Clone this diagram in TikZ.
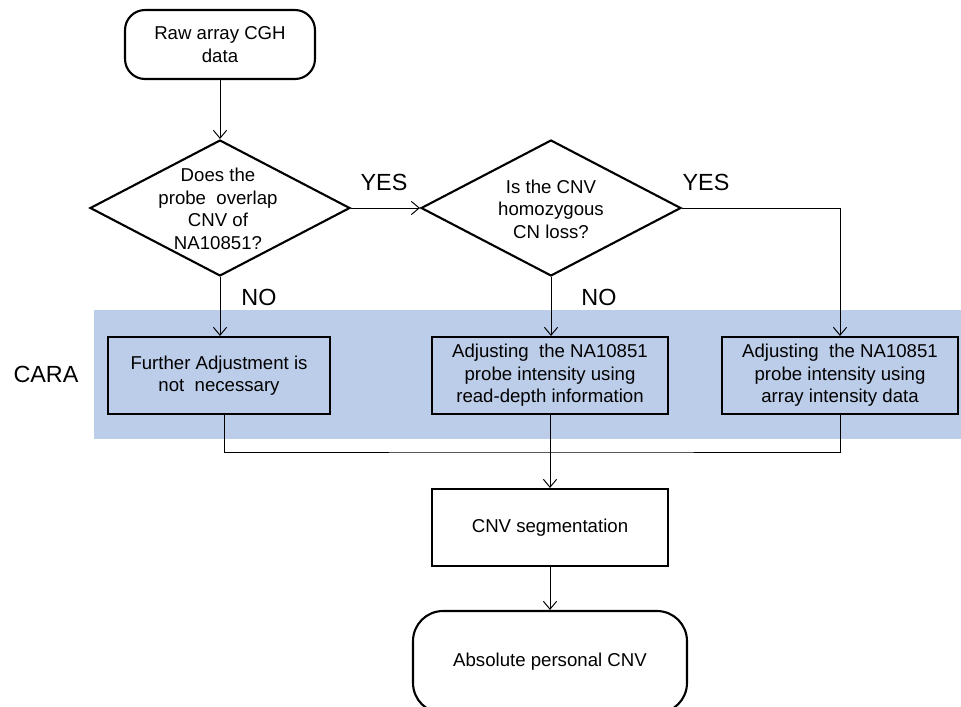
\documentclass[tikz,border=0pt]{standalone}
\usepackage{fontspec}
\setmainfont{Liberation Sans}
\usepackage{tikz}
\usepackage{xcolor}
\usetikzlibrary{shapes.geometric,arrows.meta}
\definecolor{carablue}{RGB}{188,205,233}

\begin{document}
\begin{tikzpicture}[x=0.02cm, y=-0.02cm,
    >={Straight Barb[length=4.5pt,width=7.5pt]},
    line/.style={line width=0.55pt},
    terminal/.style={draw, line width=1.2pt, rounded corners=0.4cm, align=center,
        font=\fontsize{10.6}{12.8}\selectfont},
    decision/.style={draw, diamond, line width=1.2pt, inner sep=0pt,
        minimum width=5.2cm, minimum height=2.72cm},
    qtext/.style={align=center, font=\fontsize{10.6}{12.8}\selectfont},
    process/.style={draw, rectangle, line width=1.2pt, align=center,
        minimum width=4.72cm, minimum height=1.54cm,
        font=\fontsize{10.6}{12.8}\selectfont},
    answer/.style={font=\fontsize{13.3}{15}\selectfont}]
                \useasboundingbox (0,0) rectangle (961,707);

                % CARA band
                \fill[carablue] (94,310) rectangle (961,439);
                \node[answer] (cara) at (46,374) {CARA};

                % start and questions
                \node[terminal, minimum width=3.8cm, minimum height=1.38cm] (raw) at (220,44.5) {Raw array CGH\\data};
                \node[decision] (overlap) at (220,208) {};
                \node[qtext] (overlaptext) at (218,209) {Does the\\probe\ \ overlap\\CNV of\\NA10851?};
                \node[decision] (homo) at (551,208) {};
                \node[qtext] (homotext) at (551,209) {Is the CNV\\homozygous\\CN loss?};

                % answers
                \node[answer] (yes1) at (384,182) {YES};
                \node[answer] (yes2) at (706,182) {YES};
                \node[answer] (no1) at (259,297) {NO};
                \node[answer] (no2) at (599,297) {NO};

                % adjustment boxes
                \node[process, minimum width=4.44cm] (further) at (219,375.5) {Further Adjustment is\\not\ \ necessary};
                \node[process] (readdepth) at (550,375.5) {Adjusting\ \ the NA10851\\probe intensity using\\read-depth information};
                \node[process] (arrayint) at (840,375.5) {Adjusting\ \ the NA10851\\probe intensity using\\array intensity data};

                % segmentation and result
                \node[process] (seg) at (550,527.5) {CNV segmentation};
                \node[terminal, minimum width=5.48cm, minimum height=2.04cm, rounded corners=0.6cm] (abs) at (550,662) {Absolute personal CNV};
                \coordinate (merge) at (550,452);

                % connectors
                \draw[line, ->] (raw.south) -- (overlap.north);
                \draw[line, ->] (overlap.east) -- (homo.west);
                \draw[line, ->] (overlap.south) -- (overlap.south |- further.north);
                \draw[line, ->] (homo.south) -- (homo.south |- readdepth.north);
                \draw[line, ->] (homo.east) -| (arrayint.north);
                \draw[line] ([xshift=0.1cm]further.south) |- (merge) -| (arrayint.south);
                \draw[line, ->] (readdepth.south) -- (seg.north);
                \draw[line, ->] (seg.south) -- (abs.north);
            \end{tikzpicture}
\end{document}
